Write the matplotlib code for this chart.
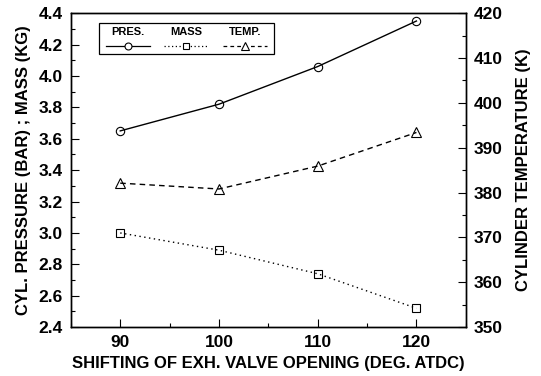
import matplotlib
matplotlib.use("Agg")
import matplotlib.pyplot as plt
from matplotlib.patches import Rectangle
from matplotlib.lines import Line2D
from matplotlib.ticker import MultipleLocator

plt.rcParams['font.family'] = ['Liberation Sans', 'DejaVu Sans']

shift = [90, 100, 110, 120]
pressure = [3.65, 3.82, 4.06, 4.35]
mass = [3.00, 2.89, 2.74, 2.52]
temperature = [382.1, 380.8, 385.9, 393.4]

fig = plt.figure(figsize=(5.41, 3.76), dpi=100)
ax = fig.add_axes([0.131, 0.130, 0.730, 0.835])
ax2 = ax.twinx()

ax.plot(shift, pressure, color='black', lw=1.0, marker='o', ms=6, mfc='none', mec='black', mew=0.8)
ax.plot(shift, mass, color='black', lw=1.0, ls=(0, (1, 2.5)), marker='s', ms=6, mfc='none', mec='black', mew=0.8)
ax2.plot(shift, temperature, color='black', lw=1.0, ls=(0, (4, 3)), marker='^', ms=7, mfc='none', mec='black', mew=0.8)

ax.set_xlim(85, 125)
ax.set_ylim(2.4, 4.4)
ax2.set_ylim(350, 420)

ax.xaxis.set_minor_locator(MultipleLocator(5))
ax.set_xticks([90, 100, 110, 120])
ax.yaxis.set_major_locator(MultipleLocator(0.2))
ax.yaxis.set_minor_locator(MultipleLocator(0.1))
ax2.yaxis.set_major_locator(MultipleLocator(10))
ax2.yaxis.set_minor_locator(MultipleLocator(5))

for a in (ax, ax2):
    a.tick_params(which='major', direction='in', length=6, width=0.8, labelsize=12.5, pad=6)
    a.tick_params(which='minor', direction='in', length=3, width=0.8)
    for s in a.spines.values():
        s.set_linewidth(1.0)
for lab in ax.get_xticklabels() + ax.get_yticklabels() + ax2.get_yticklabels():
    lab.set_fontweight('bold')
ax.tick_params(axis='x', which='both', top=False)

ax.set_xlabel('SHIFTING OF EXH. VALVE OPENING (DEG. ATDC)', fontsize=12, fontweight='bold', labelpad=4)
ax.set_ylabel('CYL. PRESSURE (BAR) ; MASS (KG)', fontsize=12, fontweight='bold', labelpad=5)
ax2.set_ylabel('CYLINDER TEMPERATURE (K)', fontsize=12, fontweight='bold', labelpad=9)

# custom legend (labels above samples)
x0, y0, w, h = (99 - 71) / 395, (327 - 54) / 314, (274 - 99) / 395, 31 / 314
ax.add_patch(Rectangle((x0, y0), w, h, transform=ax.transAxes, fill=False, ec='black', lw=0.9, zorder=5))
entries = [('PRES.', '-', 'o', 5), ('MASS', (0, (1, 2)), 's', 5), ('TEMP.', (0, (3, 2.5)), '^', 6)]
colw = w / 3
for i, (lab, ls, mk, ms) in enumerate(entries):
    cx = x0 + colw * (i + 0.5)
    ax.text(cx, y0 + h * 0.70, lab, transform=ax.transAxes, ha='center', va='center',
            fontsize=8, fontweight='bold', zorder=6)
    ax.add_line(Line2D([cx - colw * 0.38, cx + colw * 0.38], [y0 + h * 0.27] * 2, transform=ax.transAxes,
                       color='black', lw=0.9, ls=ls, zorder=6))
    ax.add_line(Line2D([cx], [y0 + h * 0.27], transform=ax.transAxes, marker=mk, ms=ms, mfc='white',
                       mec='black', mew=0.8, ls='none', zorder=7))

fig.savefig('out.png', dpi=100)
